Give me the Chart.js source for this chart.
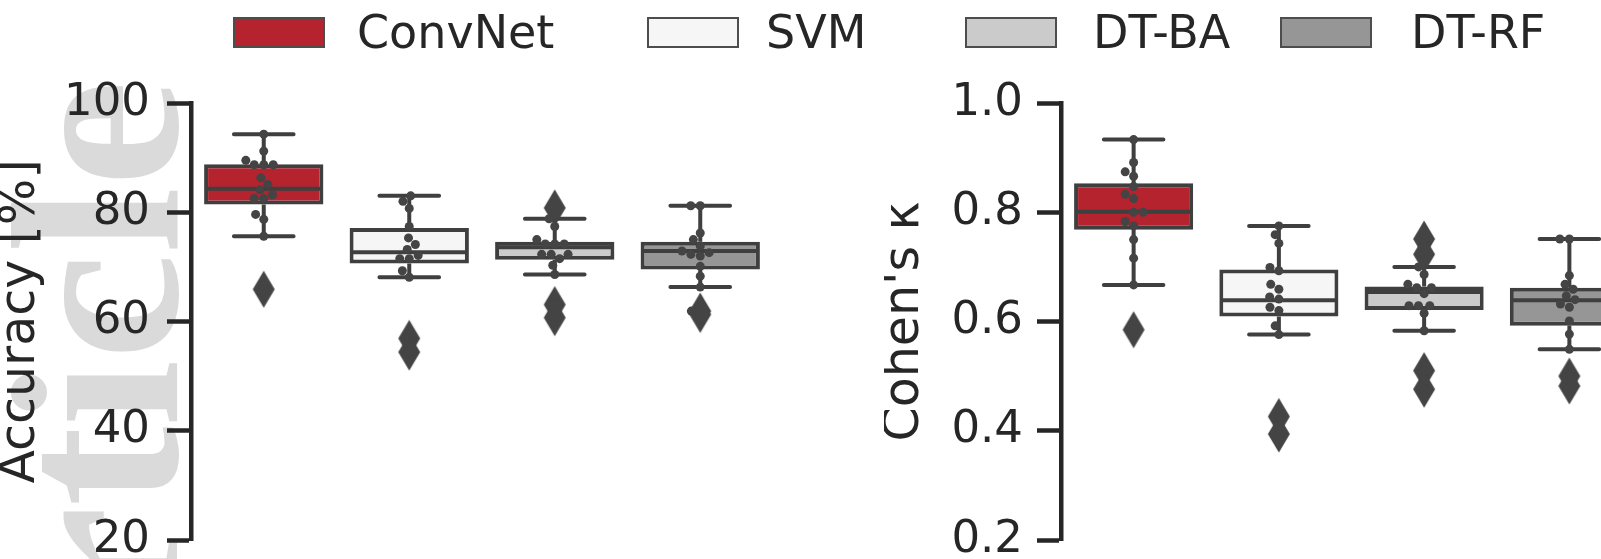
<!DOCTYPE html>
<html>
<head>
<meta charset="utf-8">
<script src="https://cdn.jsdelivr.net/npm/chart.js@4/dist/chart.umd.min.js"></script>
<style>
  html, body { margin: 0; padding: 0; width: 1601px; height: 559px; overflow: hidden; background: #fff; }
  body { position: relative; font-family: 'DejaVu Sans', sans-serif; }
  canvas { position: absolute; top: 0; }
  #wm { position: absolute; left: 177px; top: 80px; width: 0; height: 0; transform: rotate(-90deg); transform-origin: 0 0; }
  #wm span { position: absolute; right: 0; top: -201px; font: bold 240px 'Liberation Serif', serif; line-height: 1; color: #dadada; white-space: nowrap; }
  .lg-patch { position: absolute; top: 17px; width: 92px; height: 31px; box-sizing: border-box; border: 2px solid #4d4d4d; }
  .lg-text { position: absolute; top: 9px; font-size: 46px; line-height: 46px; color: #262626; white-space: nowrap; }
</style>
</head>
<body>
<div id="wm"><span>Article</span></div>
<canvas id="acc" width="800" height="584" style="left:0px"></canvas>
<canvas id="kappa" width="780" height="581" style="left:884px"></canvas>
<div id="legend"></div>
<script>
// models and colours
const models = ['ConvNet', 'SVM', 'DT-BA', 'DT-RF'];
const boxColors = ['#b5232f', '#f6f6f6', '#cbcbcb', '#969696'];

// accuracy [%] per subject
const accConvNet = [94.3, 91.2, 89.5, 88.7, 88.7, 88.7, 86.3, 85.1, 84.1, 83.2, 82.5, 82.5, 79.6, 78.7, 75.6, 65.9];
const accSVM = [83.0, 82.0, 80.7, 77.4, 75.3, 74.1, 73.2, 72.1, 71.5, 71.5, 69.3, 68.1, 56.9, 54.4];
const accDTBA = [80.8, 78.8, 77.4, 75.0, 74.2, 74.2, 74.2, 72.3, 72.3, 72.3, 71.5, 70.3, 68.6, 63.1, 60.7];
const accDTRF = [81.2, 81.2, 76.2, 75.0, 73.8, 72.9, 72.6, 72.3, 72.0, 70.1, 68.3, 66.3, 61.9, 61.3];
// box stats [lower whisker, q1, median, q3, upper whisker]
const accBoxes = [
  [75.6, 81.4, 84.3, 88.8, 94.3],
  [68.1, 70.6, 72.7, 77.1, 83.0],
  [68.6, 71.3, 73.6, 74.6, 78.8],
  [66.3, 69.5, 72.9, 74.6, 81.2]
];
const accTicks = [20, 40, 60, 80, 100];

// Cohen's kappa per subject
const kapConvNet = [0.933, 0.891, 0.874, 0.866, 0.847, 0.833, 0.825, 0.800, 0.800, 0.783, 0.775, 0.750, 0.716, 0.667, 0.585];
const kapSVM = [0.775, 0.759, 0.743, 0.699, 0.693, 0.668, 0.659, 0.645, 0.641, 0.626, 0.620, 0.592, 0.576, 0.426, 0.394];
const kapDTBA = [0.751, 0.723, 0.700, 0.686, 0.668, 0.662, 0.662, 0.651, 0.629, 0.629, 0.629, 0.615, 0.583, 0.510, 0.476];
const kapDTRF = [0.751, 0.751, 0.684, 0.668, 0.659, 0.647, 0.640, 0.632, 0.626, 0.601, 0.577, 0.549, 0.500, 0.482];
const kapBoxes = [
  [0.667, 0.768, 0.801, 0.853, 0.933],
  [0.576, 0.609, 0.639, 0.695, 0.775],
  [0.583, 0.621, 0.654, 0.664, 0.700],
  [0.549, 0.592, 0.639, 0.662, 0.751]
];
const kapTicks = [0.2, 0.4, 0.6, 0.8, 1.0];

const edge = '#3f3f3f';
const dotColor = '#444444';
const axisColor = '#262626';

// thin diamond marker for fliers
const diamond = document.createElement('canvas');
diamond.width = 24;
diamond.height = 40;
(function () {
  const c = diamond.getContext('2d');
  c.fillStyle = dotColor;
  c.beginPath();
  c.moveTo(12, 1.5);
  c.lineTo(23, 20);
  c.lineTo(12, 38.5);
  c.lineTo(1, 20);
  c.closePath();
  c.fill();
})();

// whiskers, medians and swarm layout
const boxParts = {
  id: 'boxParts',
  afterDatasetsUpdate(chart, args, opts) {
    const meta = chart.getDatasetMeta(1);
    const pts = chart.data.datasets[1].data;
    const xs = chart.scales.x;
    const d = opts.dot;
    const groups = {};
    meta.data.forEach((el, j) => {
      (groups[pts[j].x] = groups[pts[j].x] || []).push(el);
    });
    Object.keys(groups).forEach(k => {
      const center = xs.getPixelForValue(Number(k));
      const items = groups[k].slice().sort((a, b) => b.y - a.y);
      const placed = [];
      items.forEach(el => {
        const cands = [0];
        placed.forEach(p => {
          const dy = el.y - p.y;
          if (Math.abs(dy) < d) {
            const dx = Math.sqrt(d * d - dy * dy);
            cands.push(p.dx - dx, p.dx + dx);
          }
        });
        cands.sort((a, b) => Math.abs(a) - Math.abs(b));
        const ok = cands.find(c => placed.every(p => (c - p.dx) ** 2 + (el.y - p.y) ** 2 >= d * d - 0.5));
        const dx = ok === undefined ? 0 : ok;
        placed.push({dx: dx, y: el.y});
        el.x = center + dx;
      });
    });
  },
  beforeDatasetsDraw(chart, args, opts) {
    const {ctx, scales: {x, y}} = chart;
    const unit = x.getPixelForValue(1) - x.getPixelForValue(0);
    ctx.save();
    ctx.strokeStyle = edge;
    ctx.lineWidth = 4;
    opts.stats.forEach((s, i) => {
      const px = x.getPixelForValue(i);
      ctx.lineCap = 'butt';
      ctx.beginPath();
      ctx.moveTo(px, y.getPixelForValue(s[4]));
      ctx.lineTo(px, y.getPixelForValue(s[3]));
      ctx.moveTo(px, y.getPixelForValue(s[1]));
      ctx.lineTo(px, y.getPixelForValue(s[0]));
      ctx.stroke();
      ctx.lineCap = 'round';
      ctx.beginPath();
      [s[0], s[4]].forEach(v => {
        ctx.moveTo(px - unit * 0.205, y.getPixelForValue(v));
        ctx.lineTo(px + unit * 0.205, y.getPixelForValue(v));
      });
      ctx.stroke();
    });
    ctx.restore();
  },
  afterDatasetDraw(chart, args, opts) {
    if (args.index !== 0) return;
    const {ctx, scales: {x, y}} = chart;
    const unit = x.getPixelForValue(1) - x.getPixelForValue(0);
    ctx.save();
    ctx.strokeStyle = edge;
    ctx.lineWidth = 4;
    opts.stats.forEach((s, i) => {
      const px = x.getPixelForValue(i);
      const py = y.getPixelForValue(s[2]);
      ctx.beginPath();
      ctx.moveTo(px - unit * 0.41 + 3, py);
      ctx.lineTo(px + unit * 0.41 - 3, py);
      ctx.stroke();
    });
    ctx.restore();
  }
};

function drawPanel(id, values, stats, ticks, label, decimals, scaleWidth, tickPad, padRight) {
  const swarm = [];
  const fliers = [];
  values.forEach((vals, i) => vals.forEach(v => {
    swarm.push({x: i, y: v});
    if (v < stats[i][0] || v > stats[i][4]) fliers.push({x: i, y: v});
  }));
  new Chart(document.getElementById(id), {
    type: 'bar',
    data: {
      datasets: [
        {
          type: 'bar',
          data: stats.map((s, i) => ({x: i, y: [s[1], s[3]]})),
          backgroundColor: boxColors,
          borderColor: edge,
          borderWidth: 4,
          borderSkipped: false,
          barPercentage: 0.82,
          categoryPercentage: 1,
          order: 3
        },
        {
          type: 'scatter',
          data: swarm,
          pointRadius: 4.5,
          pointBackgroundColor: dotColor,
          pointBorderWidth: 0,
          order: 1
        },
        {
          type: 'scatter',
          data: fliers,
          pointStyle: diamond,
          order: 2
        }
      ]
    },
    options: {
      responsive: false,
      animation: false,
      devicePixelRatio: 1,
      events: [],
      layout: {padding: {top: 103, bottom: 0, left: 0, right: padRight}},
      plugins: {
        legend: {display: false},
        tooltip: {enabled: false},
        boxParts: {stats: stats, dot: 9.5}
      },
      scales: {
        x: {
          type: 'linear',
          min: -0.5,
          max: 3.5,
          offset: false,
          display: false,
          afterBuildTicks: s => { s.ticks = models.map((m, i) => ({value: i})); }
        },
        y: {
          min: ticks[0],
          max: ticks[ticks.length - 1],
          afterBuildTicks: s => { s.ticks = ticks.map(v => ({value: v})); },
          afterFit: s => { s.width = scaleWidth; },
          border: {display: true, width: 4.5, color: axisColor},
          grid: {drawOnChartArea: false, drawTicks: true, tickLength: 24, tickWidth: 4.5, tickColor: axisColor},
          ticks: {
            padding: tickPad,
            color: axisColor,
            font: {family: 'DejaVu Sans', size: 45},
            callback: v => Number(v).toFixed(decimals)
          },
          title: {
            display: true,
            text: label,
            color: axisColor,
            padding: 0,
            font: {family: 'DejaVu Sans', size: 49, lineHeight: 0.88}
          }
        }
      }
    },
    plugins: [boxParts]
  });
}

drawPanel('acc', [accConvNet, accSVM, accDTBA, accDTRF], accBoxes, accTicks, 'Accuracy [%]', 0, 191, 17, 27);
drawPanel('kappa', [kapConvNet, kapSVM, kapDTBA, kapDTRF], kapBoxes, kapTicks, "Cohen's κ", 1, 177, 14, 22);

// legend
const legendPatchX = [233, 647, 965, 1280];
const legendTextX = [357, 766, 1093, 1411];
const legend = document.getElementById('legend');
models.forEach((m, i) => {
  const p = document.createElement('div');
  p.className = 'lg-patch';
  p.style.left = legendPatchX[i] + 'px';
  p.style.background = boxColors[i];
  legend.appendChild(p);
  const t = document.createElement('div');
  t.className = 'lg-text';
  t.style.left = legendTextX[i] + 'px';
  t.textContent = m;
  legend.appendChild(t);
});
</script>
</body>
</html>
